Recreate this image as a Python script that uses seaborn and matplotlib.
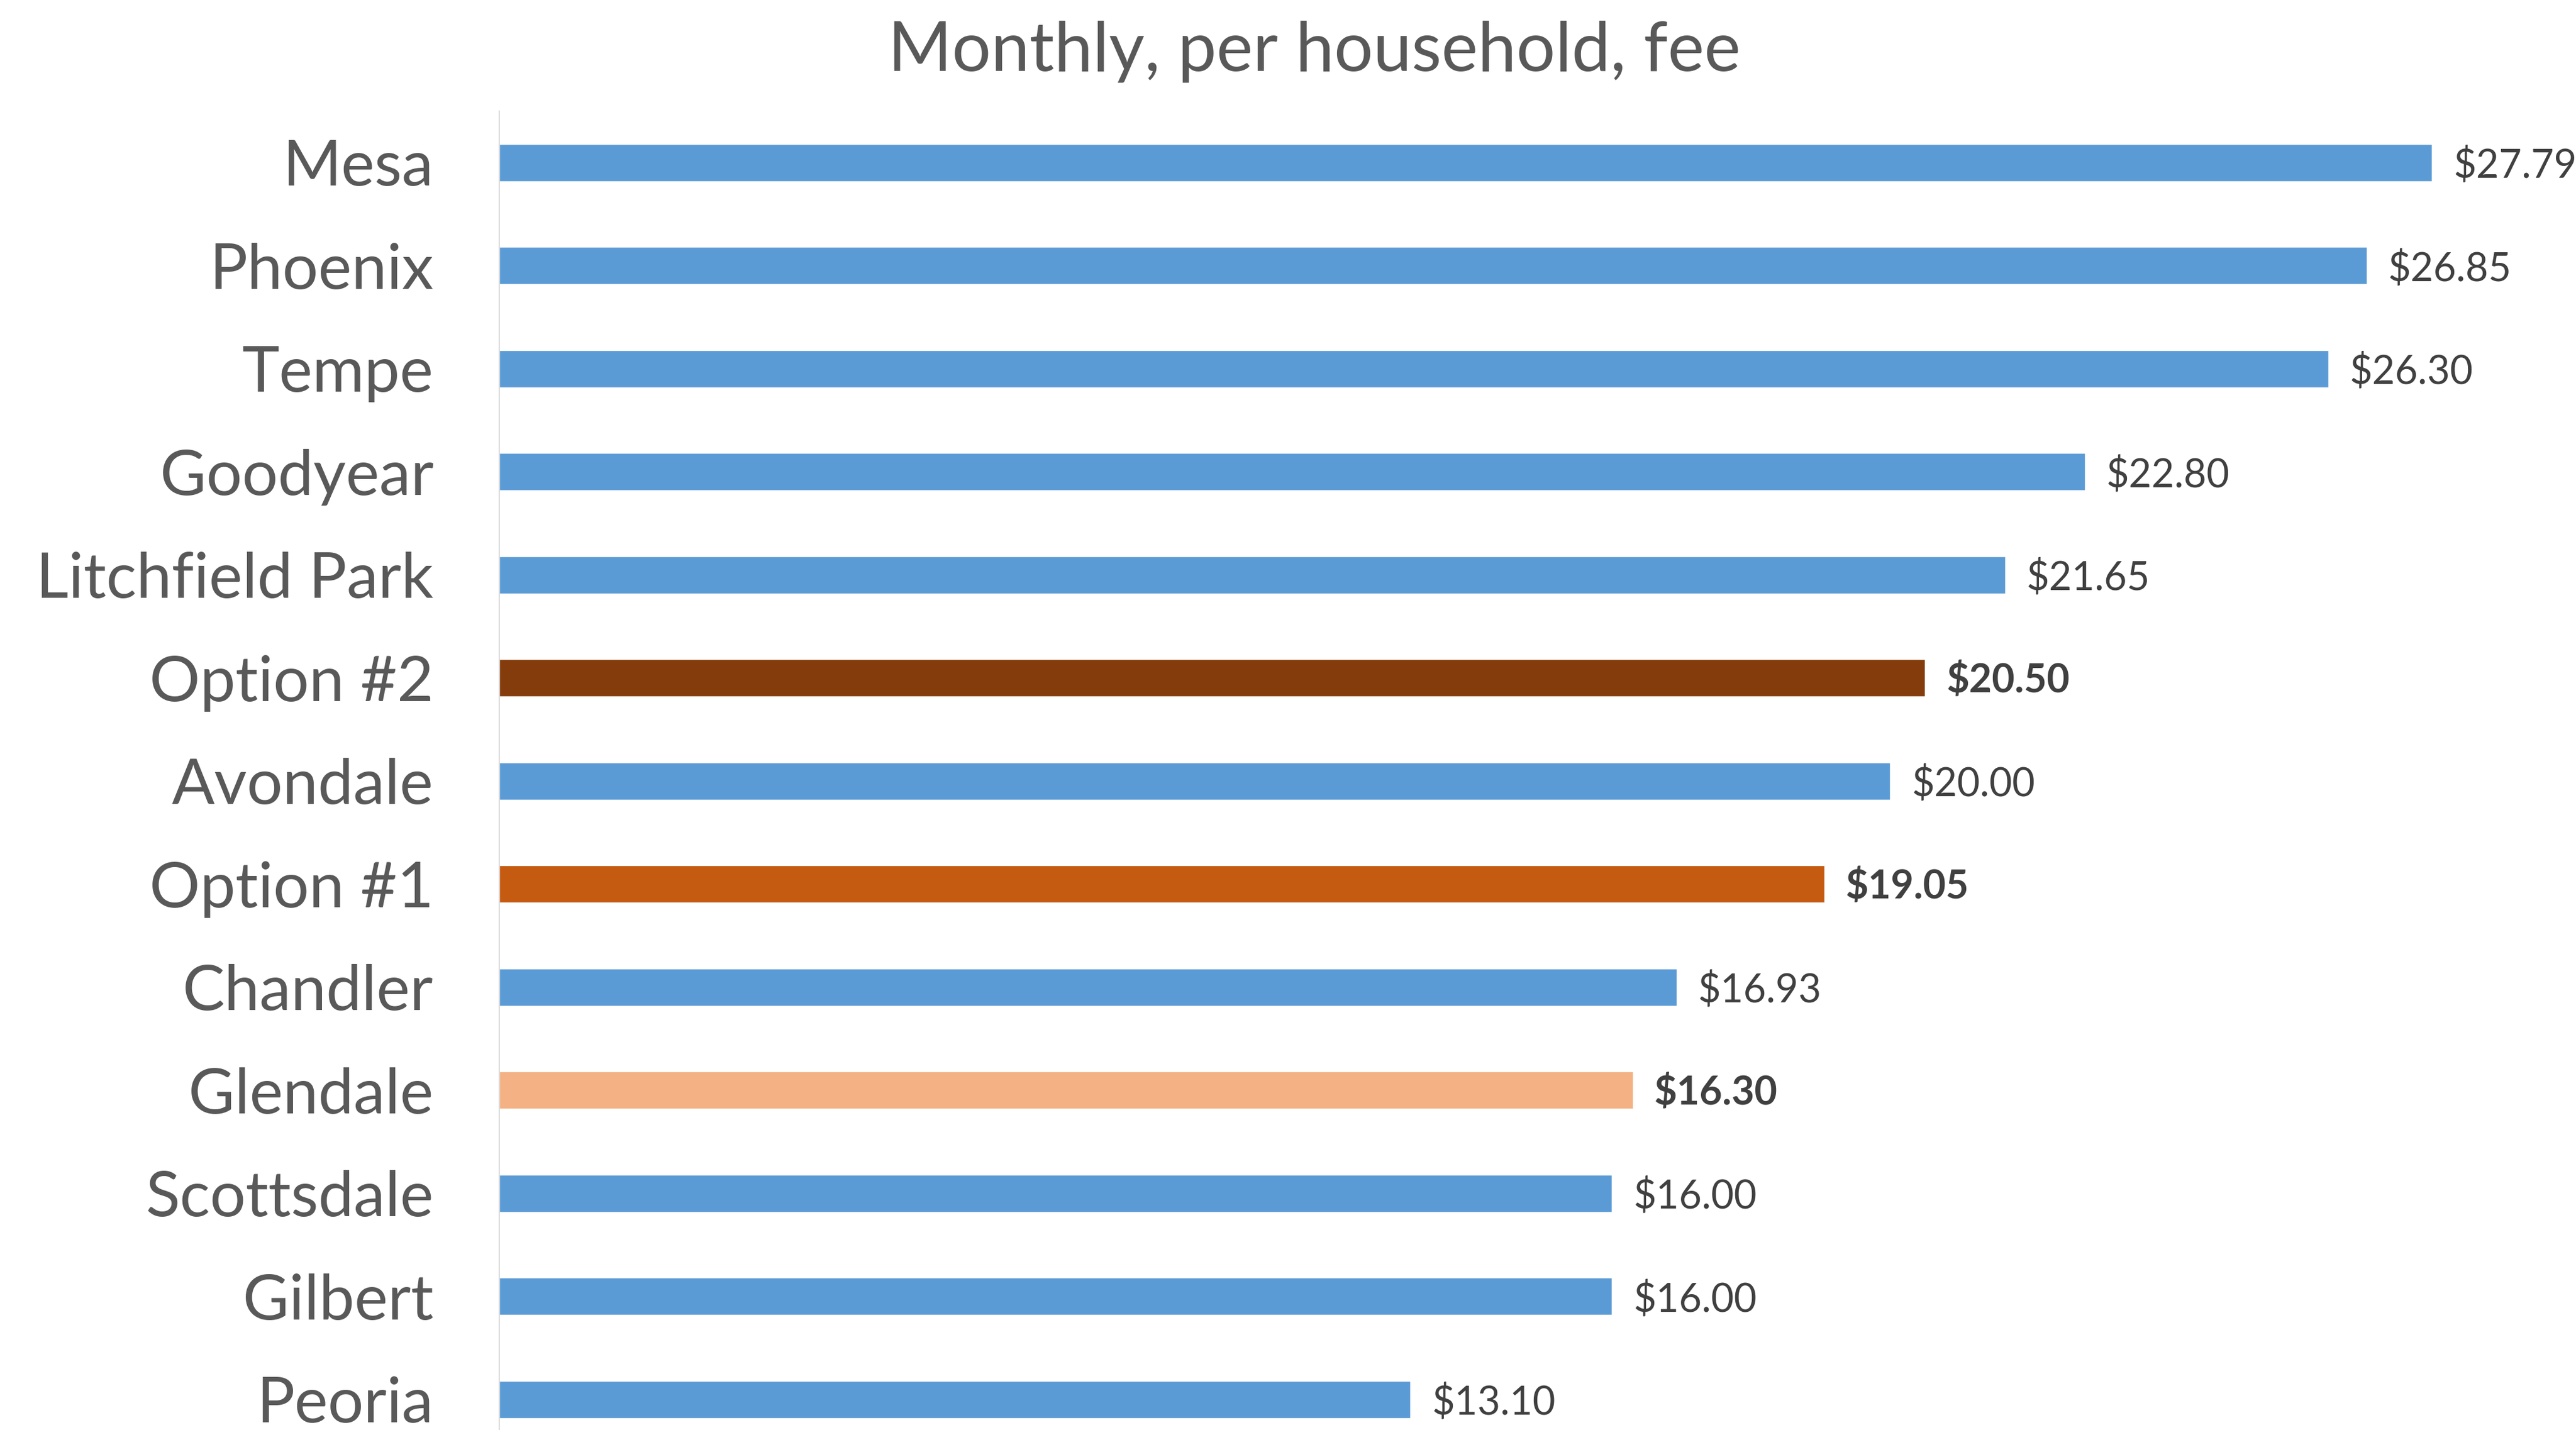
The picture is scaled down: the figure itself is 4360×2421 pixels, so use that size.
import pandas as pd
import seaborn as sns
import matplotlib.pyplot as plt

# data
cities = ['Mesa', 'Phoenix', 'Tempe', 'Goodyear', 'Litchfield Park', 'Option #2',
          'Avondale', 'Option #1', 'Chandler', 'Glendale', 'Scottsdale', 'Gilbert', 'Peoria']
fees = [27.79, 26.85, 26.30, 22.80, 21.65, 20.50, 20.00, 19.05, 16.93, 16.30, 16.00, 16.00, 13.10]
bar_colors = ['#5B9BD5', '#5B9BD5', '#5B9BD5', '#5B9BD5', '#5B9BD5', '#843C0C',
              '#5B9BD5', '#C55A11', '#5B9BD5', '#F4B183', '#5B9BD5', '#5B9BD5', '#5B9BD5']
bold_labels = ['Option #2', 'Option #1', 'Glendale']

df = pd.DataFrame({'city': cities, 'fee': fees})

sns.set_style('white')
plt.rcParams['font.family'] = ['Lato', 'DejaVu Sans']

fig = plt.figure(figsize=(43.6, 24.21), dpi=100)
ax = fig.add_axes([0.1938, -0.0147, 0.81, 0.937])

sns.barplot(data=df, x='fee', y='city', hue='city', palette=bar_colors,
            order=cities, hue_order=cities, width=0.36, legend=False,
            saturation=1, ax=ax)

for cont, name in zip(ax.containers, cities):
    labels = ax.bar_label(cont, fmt='${:.2f}', padding=26, fontsize=48, color='#404040')
    for t in labels:
        t.xyann = (t.xyann[0], -4)  # nudge down a little
        if name in bold_labels:
            t.set_fontweight('bold')

ax.set_xlim(0, 30)
ax.set_xlabel('')
ax.set_ylabel('')
ax.set_xticks([])
ax.tick_params(axis='y', length=0, pad=80, labelsize=77, labelcolor='#595959')
for side in ['top', 'right', 'bottom']:
    ax.spines[side].set_visible(False)
ax.spines['left'].set_color('#D9D9D9')
ax.spines['left'].set_linewidth(1.5)

fig.text(0.5103, 0.9504, 'Monthly, per household, fee', ha='center', va='baseline',
         fontsize=84, color='#595959')

fig.savefig('out.png', dpi=100)
